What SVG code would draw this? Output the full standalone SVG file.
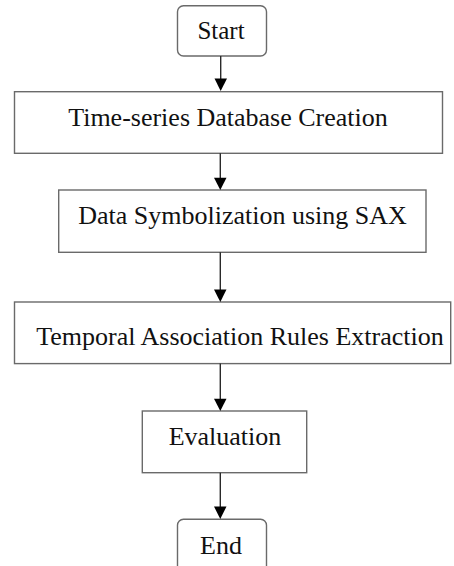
<svg xmlns="http://www.w3.org/2000/svg" width="454" height="566" viewBox="0 0 454 566">
  <style>
    .box { fill: #ffffff; stroke: #6a6a6a; stroke-width: 1.4; }
    .label { font-family: "Liberation Serif", "Times New Roman", serif; font-size: 26px; fill: #111111; text-anchor: middle; }
    .edge { stroke: #2a2a2a; stroke-width: 1.4; fill: none; }
    .head { fill: #000000; }
  </style>
  <rect width="454" height="566" fill="#ffffff"/>

  <g id="start">
    <rect class="box" x="177.5" y="5.7" width="89" height="50.3" rx="6" ry="6"/>
    <text class="label" x="221" y="39" style="font-size:25px">Start</text>
  </g>

  <g id="db-creation">
    <rect class="box" x="14.5" y="91.7" width="428" height="61.6"/>
    <text class="label" x="228" y="125.7">Time-series Database Creation</text>
  </g>

  <g id="symbolization">
    <rect class="box" x="58.7" y="190" width="367.3" height="62.3"/>
    <text class="label" x="242.5" y="224">Data Symbolization using SAX</text>
  </g>

  <g id="rules-extraction">
    <rect class="box" x="14.5" y="302" width="436.2" height="61.6"/>
    <text class="label" x="240" y="345">Temporal Association Rules Extraction</text>
  </g>

  <g id="evaluation">
    <rect class="box" x="142.3" y="411" width="164.4" height="61.7"/>
    <text class="label" x="225" y="445">Evaluation</text>
  </g>

  <g id="end">
    <rect class="box" x="177.5" y="519.3" width="89" height="60" rx="6" ry="6"/>
    <text class="label" x="221" y="554">End</text>
  </g>

  <g id="connectors">
    <line class="edge" x1="220.7" y1="56" x2="220.7" y2="80"/>
    <polygon class="head" points="214.5,78.5 227,78.5 220.7,91"/>

    <line class="edge" x1="220.3" y1="153.3" x2="220.3" y2="179"/>
    <polygon class="head" points="214,177.7 226.5,177.7 220.3,190"/>

    <line class="edge" x1="220.3" y1="252.3" x2="220.3" y2="290"/>
    <polygon class="head" points="214,289.5 226.5,289.5 220.3,302"/>

    <line class="edge" x1="220.3" y1="363.6" x2="220.3" y2="400"/>
    <polygon class="head" points="214,398.7 226.5,398.7 220.3,411"/>

    <line class="edge" x1="220.3" y1="472.7" x2="220.3" y2="508"/>
    <polygon class="head" points="214,506.5 226.5,506.5 220.3,519"/>
  </g>
</svg>
